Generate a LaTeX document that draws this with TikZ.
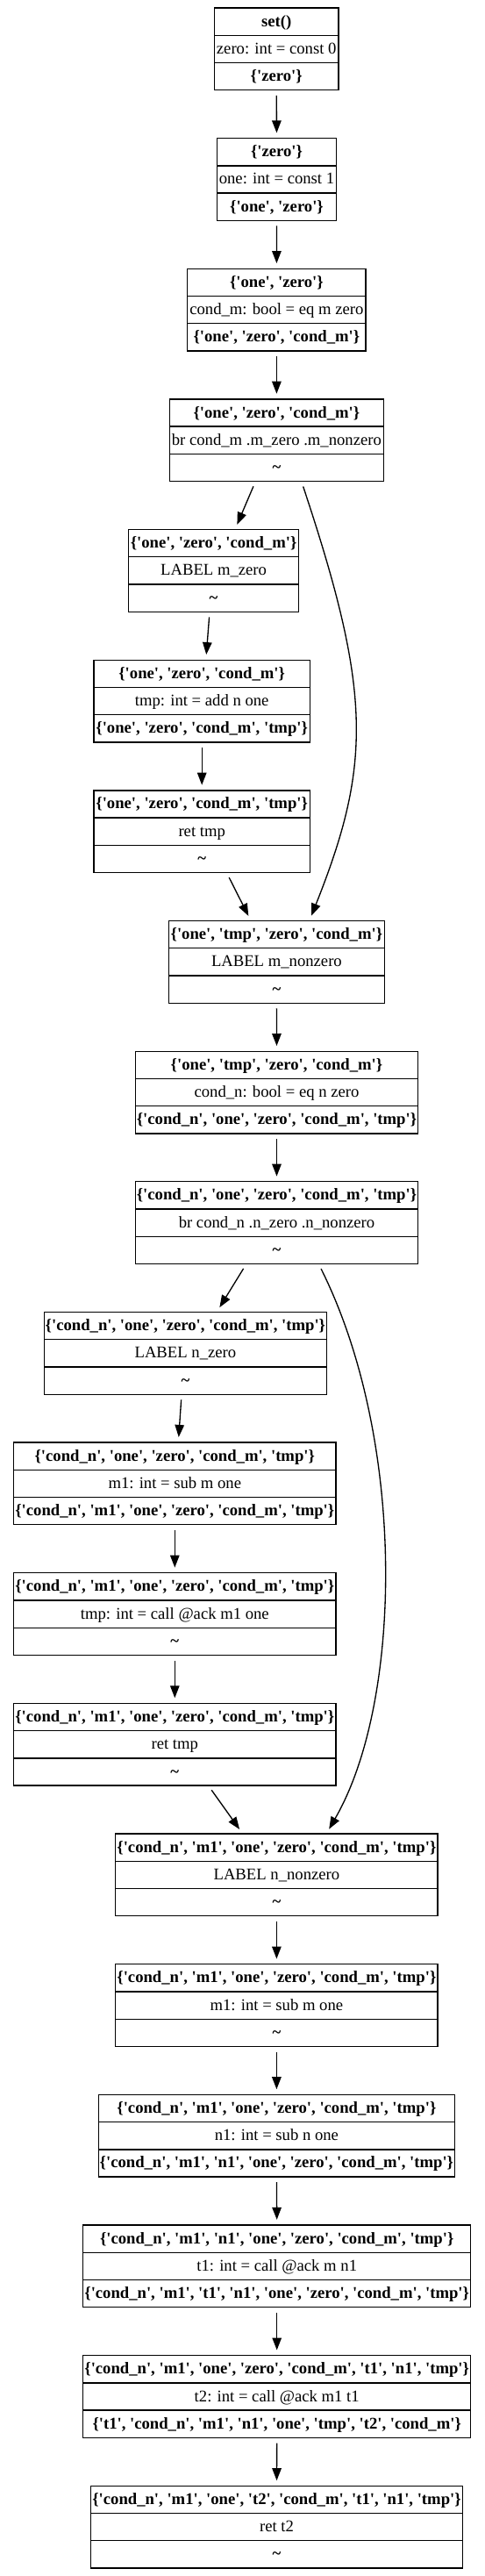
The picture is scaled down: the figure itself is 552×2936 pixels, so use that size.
\documentclass[tikz,border=0pt]{standalone}
\usepackage{fontspec}
\setmainfont{Liberation Serif}[Ligatures=TeXOff]
\usetikzlibrary{arrows.meta,shapes.multipart}

\newcommand{\rs}{\rule[-4.5pt]{0pt}{20pt}}
\newcommand{\tld}{\textasciitilde}
\newcommand{\recd}[3]{\rs\textbf{#1}\nodepart{two}\rs#2\nodepart{three}\rs\textbf{#3}}

\begin{document}
\begin{tikzpicture}[x=1pt,y=-1pt,
  every node/.style={font=\fontsize{18.67pt}{22pt}\selectfont},
  rec/.style={draw,line width=1.33pt,rectangle split,rectangle split parts=3,
              inner xsep=0pt,inner ysep=4.95pt},
  flow/.style={-{Triangle[length=14pt,width=10.5pt]},line width=1.33pt,
               shorten <=5.5pt,shorten >=5.5pt},
]
\useasboundingbox (0,0) rectangle (552,2936);

%% ── Entry ────────────────────────────────────────────────────────────────
\node[rec,minimum width=141.4pt] (zero) at (315.2,55.8)
  {\recd{set()}{zero: int = const 0}{\{'zero'\}}};
\node[rec,minimum width=136.3pt] (one) at (315.5,204.45)
  {\recd{\{'zero'\}}{one: int = const 1}{\{'one', 'zero'\}}};
\node[rec,minimum width=203.4pt] (eqm) at (315.4,353.1)
  {\recd{\{'one', 'zero'\}}{cond\_m: bool = eq m zero}{\{'one', 'zero', 'cond\_m'\}}};
\node[rec,minimum width=244.3pt] (brm) at (315.4,501.75)
  {\recd{\{'one', 'zero', 'cond\_m'\}}{br cond\_m .m\_zero .m\_nonzero}{\tld}};

%% ── m_zero branch ────────────────────────────────────────────────────────
\node[rec,minimum width=194.3pt] (mzero) at (243.6,650.4)
  {\recd{\{'one', 'zero', 'cond\_m'\}}{LABEL m\_zero}{\tld}};
\node[rec,minimum width=246.4pt] (addn) at (230.2,799.05)
  {\recd{\{'one', 'zero', 'cond\_m'\}}{tmp: int = add n one}{\{'one', 'zero', 'cond\_m', 'tmp'\}}};
\node[rec,minimum width=246.4pt] (rettmp) at (230.2,947.7)
  {\recd{\{'one', 'zero', 'cond\_m', 'tmp'\}}{ret tmp}{\tld}};

%% ── m_nonzero ────────────────────────────────────────────────────────────
\node[rec,minimum width=246.4pt] (mnonzero) at (315.4,1096.35)
  {\recd{\{'one', 'tmp', 'zero', 'cond\_m'\}}{LABEL m\_nonzero}{\tld}};
\node[rec,minimum width=322pt] (eqn) at (315.5,1245)
  {\recd{\{'one', 'tmp', 'zero', 'cond\_m'\}}{cond\_n: bool = eq n zero}{\{'cond\_n', 'one', 'zero', 'cond\_m', 'tmp'\}}};
\node[rec,minimum width=322pt] (brn) at (315.5,1393.65)
  {\recd{\{'cond\_n', 'one', 'zero', 'cond\_m', 'tmp'\}}{br cond\_n .n\_zero .n\_nonzero}{\tld}};

%% ── n_zero branch ────────────────────────────────────────────────────────
\node[rec,minimum width=322pt] (nzero) at (211.4,1542.3)
  {\recd{\{'cond\_n', 'one', 'zero', 'cond\_m', 'tmp'\}}{LABEL n\_zero}{\tld}};
\node[rec,minimum width=367.3pt] (subm) at (199.3,1690.95)
  {\recd{\{'cond\_n', 'one', 'zero', 'cond\_m', 'tmp'\}}{m1: int = sub m one}{\{'cond\_n', 'm1', 'one', 'zero', 'cond\_m', 'tmp'\}}};
\node[rec,minimum width=367.3pt] (callm) at (199.3,1839.6)
  {\recd{\{'cond\_n', 'm1', 'one', 'zero', 'cond\_m', 'tmp'\}}{tmp: int = call @ack m1 one}{\tld}};
\node[rec,minimum width=367.3pt] (rettmpb) at (199.3,1988.25)
  {\recd{\{'cond\_n', 'm1', 'one', 'zero', 'cond\_m', 'tmp'\}}{ret tmp}{\tld}};

%% ── n_nonzero ────────────────────────────────────────────────────────────
\node[rec,minimum width=367.5pt] (nnonzero) at (315.4,2136.9)
  {\recd{\{'cond\_n', 'm1', 'one', 'zero', 'cond\_m', 'tmp'\}}{LABEL n\_nonzero}{\tld}};
\node[rec,minimum width=367.5pt] (submb) at (315.4,2285.55)
  {\recd{\{'cond\_n', 'm1', 'one', 'zero', 'cond\_m', 'tmp'\}}{m1: int = sub m one}{\tld}};
\node[rec,minimum width=406.2pt] (subn) at (315.4,2434.2)
  {\recd{\{'cond\_n', 'm1', 'one', 'zero', 'cond\_m', 'tmp'\}}{n1: int = sub n one}{\{'cond\_n', 'm1', 'n1', 'one', 'zero', 'cond\_m', 'tmp'\}}};
\node[rec,minimum width=442pt] (callt) at (315.7,2582.85)
  {\recd{\{'cond\_n', 'm1', 'n1', 'one', 'zero', 'cond\_m', 'tmp'\}}{t1: int = call @ack m n1}{\{'cond\_n', 'm1', 't1', 'n1', 'one', 'zero', 'cond\_m', 'tmp'\}}};
\node[rec,minimum width=442pt] (calltt) at (315.7,2731.5)
  {\recd{\{'cond\_n', 'm1', 'one', 'zero', 'cond\_m', 't1', 'n1', 'tmp'\}}{t2: int = call @ack m1 t1}{\{'t1', 'cond\_n', 'm1', 'n1', 'one', 'tmp', 't2', 'cond\_m'\}}};
\node[rec,minimum width=423.6pt] (rett) at (315.5,2880.15)
  {\recd{\{'cond\_n', 'm1', 'one', 't2', 'cond\_m', 't1', 'n1', 'tmp'\}}{ret t2}{\tld}};

%% ── Connections ──────────────────────────────────────────────────────────
\draw[flow] (zero.south) -- (one.north);
\draw[flow] (one.south) -- (eqm.north);
\draw[flow] (eqm.south) -- (brm.north);
\draw[flow] ([xshift=-24.3pt]brm.south) -- ([xshift=24.6pt]mzero.north);
\draw[flow] ([xshift=28.5pt]brm.south) .. controls +(80,240) and +(71,-178)
  .. ([xshift=37.6pt]mnonzero.north);
\draw[flow] ([xshift=-4.6pt]mzero.south) -- ([xshift=4.6pt]addn.north);
\draw[flow] (addn.south) -- (rettmp.north);
\draw[flow] ([xshift=28.5pt]rettmp.south) -- ([xshift=-29.6pt]mnonzero.north);
\draw[flow] (mnonzero.south) -- (eqn.north);
\draw[flow] (eqn.south) -- (brn.north);
\draw[flow] ([xshift=-35pt]brn.south) -- ([xshift=36.1pt]nzero.north);
\draw[flow] ([xshift=48.1pt]brn.south) .. controls +(100,200) and +(87,-150)
  .. ([xshift=57pt]nnonzero.north);
\draw[flow] ([xshift=-4.4pt]nzero.south) -- ([xshift=4.1pt]subm.north);
\draw[flow] (subm.south) -- (callm.north);
\draw[flow] (callm.south) -- (rettmpb.north);
\draw[flow] ([xshift=38.7pt]rettmpb.south) -- ([xshift=-39.1pt]nnonzero.north);
\draw[flow] (nnonzero.south) -- (submb.north);
\draw[flow] (submb.south) -- (subn.north);
\draw[flow] (subn.south) -- (callt.north);
\draw[flow] (callt.south) -- (calltt.north);
\draw[flow] (calltt.south) -- (rett.north);

\end{tikzpicture}
\end{document}
